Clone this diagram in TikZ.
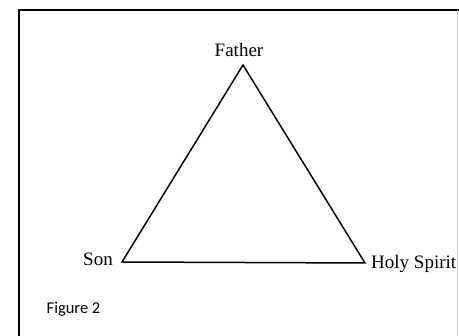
\documentclass[tikz,border=0pt]{standalone}
\usepackage{fontspec}
\setmainfont{Liberation Serif}
\newfontfamily\capfont{Carlito}
\begin{document}
\begin{tikzpicture}[x=1pt,y=-1pt,
  lbl/.style={inner sep=0pt,anchor=base,font=\fontsize{19}{21}\selectfont},
  caplbl/.style={inner sep=0pt,anchor=base west,font=\capfont\fontsize{16.5}{18}\selectfont},
  edge/.style={line width=1.5pt,line join=miter}]
\useasboundingbox (0,0) rectangle (459,336);
% frame
\draw[line width=2pt] (18.5,337) -- (18.5,10) -- (460,10);
\draw[line width=0.8pt,black!20] (457,10) -- (457,337);
% vertices
\coordinate (F) at (243,65);
\coordinate (S) at (122,262);
\coordinate (H) at (365,263);
\draw[edge] (F) -- (S) -- (H) -- cycle;
% labels
\node[lbl] (father) at (239,57) {Father};
\node[lbl,anchor=base east] (son) at (113,266) {Son};
\node[lbl,anchor=base west] (holy) at (371,269) {Holy Spirit};
\node[caplbl] (fig) at (46.5,314) {Figure 2};
\end{tikzpicture}
\end{document}
